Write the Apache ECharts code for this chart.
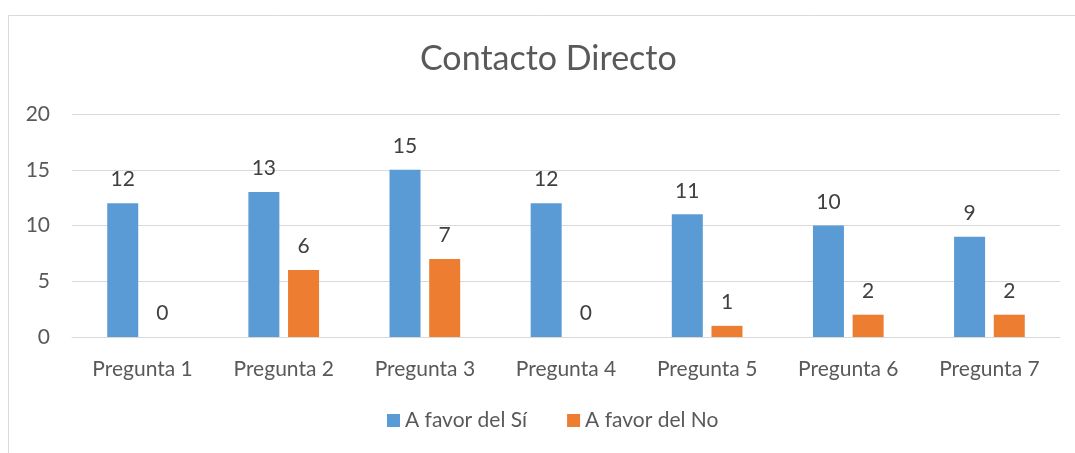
<!DOCTYPE html>
<html><head><meta charset="utf-8">
<script src="https://cdn.jsdelivr.net/npm/echarts@6/dist/echarts.min.js"></script>
<style>html,body{margin:0;padding:0;background:#fff}#c{width:1075px;height:453px}</style>
</head><body><div id="c"></div>
<script>
const categories = ['Pregunta 1','Pregunta 2','Pregunta 3','Pregunta 4','Pregunta 5','Pregunta 6','Pregunta 7'];
const siValues = [12, 13, 15, 12, 11, 10, 9];
const noValues = [0, 6, 7, 0, 1, 2, 2];
const seriesNames = ['A favor del Sí', 'A favor del No'];
const FONT = 'Lato';
const chart = echarts.init(document.getElementById('c'));
const lbl = {show:true, position:'top', distance:13, color:'#404040', fontSize:21, fontFamily:FONT};
chart.setOption({
  animation:false,
  textStyle:{fontFamily:FONT},
  graphic:[{type:'rect', shape:{x:8.5,y:15.5,width:1200,height:600}, style:{fill:'none', stroke:'#d9d9d9', lineWidth:1}, silent:true}],
  title:{text:'Contacto Directo', left:415, top:37, textStyle:{fontFamily:FONT, fontSize:34, fontWeight:'normal', color:'#595959'}},
  legend:{bottom:17, left:382, itemWidth:13, itemHeight:13, itemGap:40, icon:'rect',
    textStyle:{fontFamily:FONT, fontSize:21, color:'#595959'}, data:seriesNames},
  grid:{left:72, right:15, top:114, bottom:116, containLabel:false},
  xAxis:{type:'category', data:categories, axisTick:{show:false},
    axisLine:{lineStyle:{color:'#d9d9d9', width:1}},
    axisLabel:{color:'#595959', fontSize:21, fontFamily:FONT, margin:22}},
  yAxis:{type:'value', min:0, max:20, interval:5, axisLine:{show:false}, axisTick:{show:false},
    splitLine:{lineStyle:{color:'#d9d9d9', width:1}},
    axisLabel:{color:'#595959', fontSize:21, fontFamily:FONT, margin:22}},
  series:[
    {name:seriesNames[0], type:'bar', data:siValues, barWidth:31, barGap:'28%', itemStyle:{color:'#5B9BD5'}, label:lbl},
    {name:seriesNames[1], type:'bar', data:noValues, barWidth:31, itemStyle:{color:'#ED7D31'}, label:lbl}
  ]
});
</script></body></html>
